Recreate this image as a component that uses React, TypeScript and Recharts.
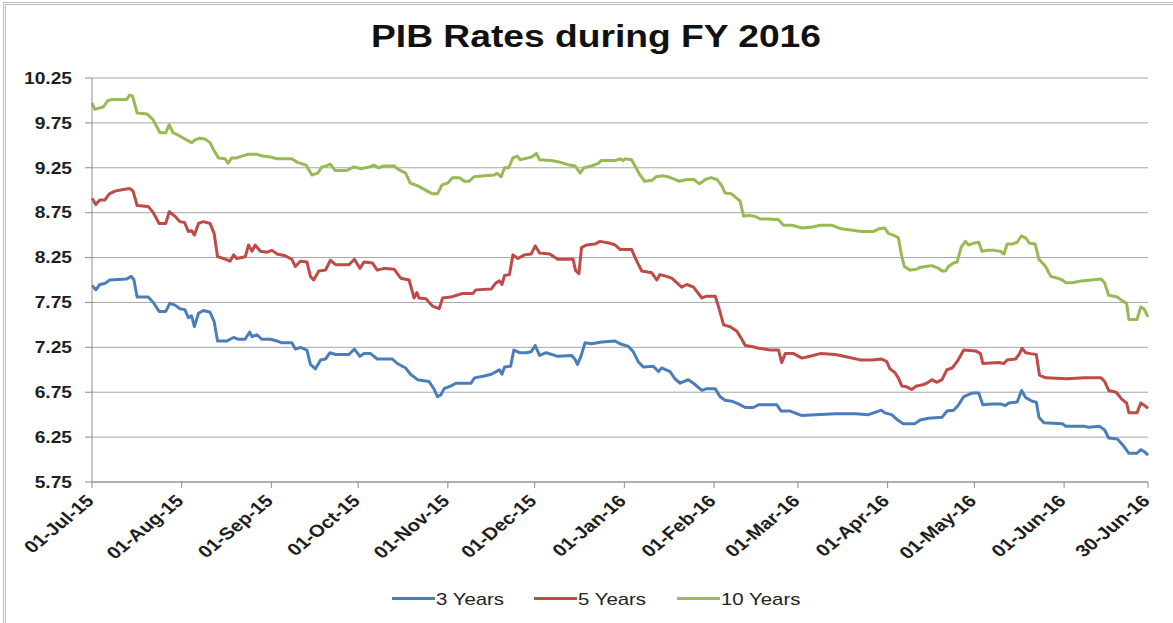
import React from "react";
import { LineChart, Line, XAxis, YAxis, CartesianGrid } from "recharts";

// PIB yields, FY 2016 (day 0 = 01-Jul-15)
const monthTicks = [0, 31, 62, 92, 123, 153, 184, 215, 244, 275, 305, 336, 365];
const monthLabels = [
  "01-Jul-15", "01-Aug-15", "01-Sep-15", "01-Oct-15", "01-Nov-15", "01-Dec-15",
  "01-Jan-16", "01-Feb-16", "01-Mar-16", "01-Apr-16", "01-May-16", "01-Jun-16", "30-Jun-16",
];
const rateTicks = [5.75, 6.25, 6.75, 7.25, 7.75, 8.25, 8.75, 9.25, 9.75, 10.25];
const seriesNames = ["3 Years", "5 Years", "10 Years"];
const seriesColors = ["#4a7ebb", "#be4b48", "#98b954"];

const days3 = [
  0, 1.3, 2.7, 4.4, 6.1, 11.9, 13.6, 14.5, 15.6, 19.4, 21.2, 23.2, 25.5, 26.9, 28.7, 30.4, 32.1, 33.3, 34.4, 35.4,
  36.8, 38.5, 40.8, 42.2, 43.4, 46.6, 48.9, 50.6, 52.9, 54.5, 55.3, 57, 58.7, 61.6, 64, 65.7, 69.1, 70.3, 72, 74.3,
  75.5, 77.2, 79, 80.7, 82.3, 84.2, 88.8, 90.7, 92.6, 94, 96.3, 98.6, 103.8, 105.5, 108.4, 110.1, 112.5, 116.5, 118.3, 119.4,
  120.6, 121.7, 124.1, 125.8, 131, 132.2, 135.6, 138, 139.7, 140.8, 141.7, 142.6, 144.7, 145.8, 147.8, 150.1, 151.8, 153.2, 154.7, 157,
  161, 165.7, 166.9, 167.8, 169, 170.4, 172.7, 176.2, 180.8, 182.5, 185.4, 187.1, 188.8, 190.6, 194, 195.8, 196.9, 199.8, 201.5, 203.3,
  206.1, 207.9, 210.8, 212.5, 215.4, 217.1, 218.8, 221.1, 223.4, 225.8, 228.6, 230.4, 236.7, 238.2, 241.3, 245.4, 250, 256.9, 263.8, 268.4,
  271.9, 272.8, 274, 276.4, 278.1, 280.4, 284.5, 286.2, 289.1, 293.8, 295.5, 297.8, 299.3, 301.3, 304.2, 306.5, 307.9, 311.1, 314, 315.7,
  316.9, 319.8, 321.3, 322.7, 325, 326.4, 327.3, 329, 335.4, 336.6, 343.2, 344.4, 348.3, 350, 351.4, 354.4, 356.6, 358.4, 361.2, 362.5,
  363.6, 365,
];
const rates3 = [
  7.94, 7.89, 7.95, 7.96, 8.0, 8.01, 8.04, 8.0, 7.81, 7.81, 7.75, 7.65, 7.65, 7.74, 7.72, 7.68, 7.67, 7.58, 7.6, 7.48,
  7.63, 7.66, 7.64, 7.54, 7.32, 7.32, 7.36, 7.34, 7.34, 7.42, 7.37, 7.39, 7.34, 7.34, 7.32, 7.3, 7.3, 7.23, 7.25, 7.22,
  7.06, 7.01, 7.11, 7.12, 7.19, 7.17, 7.17, 7.23, 7.15, 7.18, 7.18, 7.12, 7.12, 7.07, 7.02, 6.95, 6.89, 6.87, 6.78, 6.7,
  6.72, 6.79, 6.82, 6.85, 6.85, 6.91, 6.93, 6.95, 6.98, 7.0, 6.95, 7.03, 7.04, 7.22, 7.19, 7.19, 7.2, 7.27, 7.16, 7.19,
  7.15, 7.16, 7.12, 7.06, 7.15, 7.3, 7.29, 7.31, 7.32, 7.29, 7.26, 7.2, 7.09, 7.03, 7.04, 6.98, 7.02, 6.98, 6.9, 6.85,
  6.89, 6.85, 6.77, 6.79, 6.79, 6.7, 6.66, 6.65, 6.62, 6.58, 6.58, 6.61, 6.61, 6.54, 6.54, 6.49, 6.5, 6.51, 6.51, 6.5,
  6.54, 6.55, 6.52, 6.5, 6.45, 6.4, 6.4, 6.44, 6.46, 6.47, 6.54, 6.55, 6.6, 6.7, 6.74, 6.74, 6.61, 6.62, 6.62, 6.6,
  6.63, 6.64, 6.77, 6.69, 6.65, 6.64, 6.47, 6.41, 6.4, 6.37, 6.37, 6.36, 6.37, 6.33, 6.24, 6.23, 6.15, 6.07, 6.07, 6.11,
  6.09, 6.05,
];

const days5 = [
  0, 1.3, 2.7, 4.4, 6, 7.9, 11.3, 13, 14.2, 15.6, 19.4, 21.2, 23.2, 25.5, 26.7, 28.7, 30.4, 32, 33.3, 34.4,
  35.4, 36.8, 38.5, 40.8, 42.2, 43.4, 45.4, 47.7, 49, 50, 53, 54.1, 55.3, 56.4, 58.2, 60.5, 62.2, 64, 66.8, 69.1,
  70.3, 72, 74.3, 75.5, 76.6, 78.4, 80.7, 82.4, 84.2, 88.8, 90.7, 92.6, 94, 96.9, 98.6, 100.9, 104.4, 106.7, 109.6, 111.3,
  112.3, 113, 115.4, 117.7, 120, 121.2, 124, 128, 131.6, 132.7, 138, 139.7, 140.8, 141.7, 142.6, 144.3, 145.5, 147.2, 149.5, 151.8,
  153.2, 154.7, 158.2, 161, 166.3, 167.1, 168.3, 169.2, 170.9, 173.8, 175.6, 179, 180.8, 182.5, 186.5, 188.3, 190, 193.5, 195.2, 196.3,
  198.6, 200.4, 203.8, 205.6, 207.9, 210.8, 212.5, 215.4, 216.5, 218.3, 220.6, 222.9, 224.6, 225.8, 228, 230.4, 234.4, 237.3, 238.4, 239.6,
  242.5, 245.4, 248.2, 251.7, 256.9, 261.5, 265.5, 269.6, 272.9, 274.7, 275.8, 277.5, 278.7, 279.9, 281.6, 283.3, 285, 286.8, 288.5, 290.3,
  292, 293.8, 295.5, 297.3, 299, 301.3, 305.4, 307.1, 307.9, 313.4, 315.2, 316.3, 319.2, 320.4, 321.5, 322.7, 324.4, 326.4, 327.5, 329.6,
  337, 343, 348.8, 350, 351.4, 354, 356, 357.6, 358.4, 361.2, 362.5, 363.9, 365,
];
const rates5 = [
  8.91, 8.84, 8.89, 8.89, 8.96, 8.99, 9.01, 9.02, 8.99, 8.83, 8.82, 8.75, 8.63, 8.63, 8.76, 8.71, 8.65, 8.64, 8.54, 8.55,
  8.5, 8.63, 8.65, 8.63, 8.52, 8.26, 8.24, 8.21, 8.28, 8.24, 8.26, 8.39, 8.32, 8.39, 8.32, 8.31, 8.33, 8.29, 8.27, 8.23,
  8.15, 8.21, 8.2, 8.04, 8.0, 8.1, 8.11, 8.22, 8.17, 8.17, 8.23, 8.13, 8.2, 8.19, 8.11, 8.13, 8.12, 8.02, 8.0, 7.8,
  7.86, 7.8, 7.79, 7.71, 7.68, 7.8, 7.81, 7.85, 7.85, 7.89, 7.9, 7.97, 7.99, 7.95, 8.05, 8.06, 8.28, 8.24, 8.28, 8.29,
  8.38, 8.3, 8.29, 8.23, 8.23, 8.11, 8.07, 8.36, 8.39, 8.4, 8.43, 8.41, 8.39, 8.34, 8.34, 8.21, 8.1, 8.08, 8.0, 8.06,
  8.04, 8.02, 7.92, 7.95, 7.92, 7.8, 7.82, 7.82, 7.71, 7.5, 7.48, 7.43, 7.34, 7.27, 7.26, 7.24, 7.22, 7.22, 7.08, 7.18,
  7.18, 7.13, 7.15, 7.18, 7.17, 7.14, 7.11, 7.11, 7.12, 7.09, 7.01, 6.97, 6.91, 6.82, 6.81, 6.78, 6.82, 6.83, 6.85, 6.89,
  6.86, 6.89, 7.0, 7.02, 7.09, 7.22, 7.21, 7.18, 7.07, 7.08, 7.07, 7.11, 7.12, 7.17, 7.24, 7.19, 7.18, 7.17, 6.94, 6.91,
  6.9, 6.91, 6.91, 6.87, 6.77, 6.75, 6.67, 6.63, 6.52, 6.52, 6.63, 6.6, 6.57,
];

const days10 = [
  0, 1, 4, 5.5, 7, 12, 13, 14, 15.6, 19, 21, 23.5, 25.5, 26.7, 28, 30, 32.7, 34.5, 35.6, 37.3,
  39, 40.8, 42, 43.7, 46, 47, 48.3, 50, 51.8, 54, 57, 59, 61.6, 64, 69, 71, 74, 76, 78, 79.5,
  81, 82.4, 84, 88, 90.5, 93, 96, 97.4, 99, 101, 104.4, 106, 108.4, 110, 112.5, 114.8, 117.7, 119.4, 121, 123,
  124.6, 127, 128.7, 130.4, 132, 135.6, 139, 140, 141.4, 142.6, 144, 145.5, 147, 148, 150.7, 152, 153.6, 154.7, 158.8, 162,
  165, 167, 168.7, 170, 172.7, 175, 176, 180.8, 182.5, 183.5, 184.2, 186.5, 187.7, 189.4, 191, 193.5, 195, 197.5, 199, 201.5,
  203, 205.6, 208, 210, 212, 214, 216, 217.7, 218.8, 221, 222.9, 224, 225.2, 227, 229, 231, 233.8, 237.3, 239, 242,
  245.4, 249, 251.7, 255.7, 259, 261.5, 266, 270, 272, 274, 275.2, 277, 278.7, 279.9, 280.8, 282.8, 285, 286.2, 288, 290.3,
  292.6, 293.8, 295, 296, 297.8, 299, 300.5, 301.9, 303, 304.7, 306.5, 307.6, 309.4, 311.7, 314, 315.2, 316.3, 318, 319.8, 321.2,
  322.7, 324, 326, 327.3, 329.6, 331.4, 333.7, 335.4, 336.6, 338.8, 342, 345.5, 348.8, 350, 351.4, 354.4, 356, 357.6, 358.4, 361.2,
  362.5, 363.6, 365,
];
const rates10 = [
  9.97, 9.9, 9.93, 10.0, 10.01, 10.01, 10.06, 10.05, 9.86, 9.85, 9.79, 9.64, 9.64, 9.73, 9.64, 9.61, 9.56, 9.53, 9.56, 9.58,
  9.57, 9.53, 9.45, 9.36, 9.35, 9.3, 9.36, 9.36, 9.38, 9.4, 9.4, 9.38, 9.37, 9.35, 9.35, 9.31, 9.28, 9.17, 9.19, 9.26,
  9.27, 9.29, 9.22, 9.22, 9.26, 9.24, 9.26, 9.28, 9.25, 9.27, 9.27, 9.23, 9.19, 9.08, 9.05, 9.01, 8.96, 8.96, 9.06, 9.08,
  9.14, 9.14, 9.1, 9.1, 9.15, 9.16, 9.17, 9.19, 9.15, 9.25, 9.25, 9.36, 9.38, 9.34, 9.36, 9.37, 9.41, 9.34, 9.33, 9.31,
  9.28, 9.27, 9.19, 9.25, 9.27, 9.3, 9.33, 9.33, 9.35, 9.33, 9.35, 9.34, 9.27, 9.17, 9.1, 9.11, 9.15, 9.16, 9.15, 9.12,
  9.1, 9.12, 9.12, 9.07, 9.12, 9.14, 9.12, 9.05, 8.97, 8.96, 8.91, 8.88, 8.71, 8.72, 8.71, 8.68, 8.68, 8.67, 8.61, 8.61,
  8.58, 8.59, 8.61, 8.61, 8.57, 8.56, 8.54, 8.54, 8.57, 8.58, 8.52, 8.5, 8.47, 8.26, 8.15, 8.11, 8.12, 8.14, 8.15, 8.16,
  8.13, 8.1, 8.1, 8.15, 8.19, 8.2, 8.37, 8.43, 8.39, 8.41, 8.42, 8.32, 8.33, 8.33, 8.32, 8.29, 8.4, 8.4, 8.42, 8.49,
  8.47, 8.41, 8.4, 8.23, 8.15, 8.04, 8.02, 8.0, 7.97, 7.97, 7.99, 8.0, 8.01, 7.97, 7.83, 7.81, 7.77, 7.74, 7.56, 7.56,
  7.7, 7.68, 7.59,
];

const toSeries = (days: number[], rates: number[]) => days.map((d, i) => ({ day: d, rate: rates[i] }));
const series = [toSeries(days3, rates3), toSeries(days5, rates5), toSeries(days10, rates10)];

const FONT = "'Liberation Sans', Arial, sans-serif";
const STRETCH = 1.2;

const XTick = (props: any) => {
  const { x, y, payload } = props;
  const label = monthLabels[monthTicks.indexOf(payload.value)];
  return (
    <g transform={`translate(${x + 3},${y + 12}) scale(${STRETCH},1) rotate(-45)`}>
      <text x={0} y={0} textAnchor="end" fontFamily={FONT} fontSize={17} fontWeight="bold" fill="#1e1e1e">
        {label}
      </text>
    </g>
  );
};

const YTick = (props: any) => {
  const { x, y, payload } = props;
  return (
    <g transform={`translate(${x},${y}) scale(${STRETCH},1)`}>
      <text x={0} y={0} dy="0.36em" textAnchor="end" fontFamily={FONT} fontSize={16} fontWeight="bold" fill="#1e1e1e">
        {payload.value.toFixed(2)}
      </text>
    </g>
  );
};

const legendLeft = [392, 534, 677];

export default function App() {
  return (
    <div style={{ position: "absolute", left: 0, top: 0, width: 1173, height: 623, background: "#fff", overflow: "hidden" }}>
      <div style={{ position: "absolute", left: 3, top: 2, width: 1180, height: 640, borderLeft: "3px double #bdbdbd", borderTop: "3px double #bdbdbd" }} />
      <span
        style={{
          position: "absolute", left: 596, top: 21, fontFamily: FONT, fontSize: 31, lineHeight: "31px",
          fontWeight: "bold", color: "#111", whiteSpace: "nowrap", transform: `translateX(-50%) scaleX(${STRETCH})`,
        }}
      >
        PIB Rates during FY 2016
      </span>
      <LineChart width={1173} height={623} margin={{ top: 78, right: 25, bottom: 41, left: 0 }}>
        <CartesianGrid vertical={false} stroke="#a6a6a6" />
        <XAxis
          dataKey="day" type="number" domain={[0, 365]} ticks={monthTicks} interval={0} height={100}
          tick={<XTick />} tickSize={6} axisLine={{ stroke: "#8c8c8c" }} tickLine={{ stroke: "#8c8c8c" }}
        />
        <YAxis
          type="number" domain={[5.75, 10.25]} ticks={rateTicks} interval={0} width={92}
          tick={<YTick />} tickSize={7} tickMargin={13} axisLine={{ stroke: "#8c8c8c" }} tickLine={{ stroke: "#8c8c8c" }}
        />
        {series.map((s, i) => (
          <Line key={seriesNames[i]} data={s} dataKey="rate" name={seriesNames[i]} type="linear" stroke={seriesColors[i]}
            strokeWidth={3} dot={false} activeDot={false} isAnimationActive={false} strokeLinejoin="round" />
        ))}
      </LineChart>
      {seriesNames.map((n, i) => (
        <div key={n}>
          <div style={{ position: "absolute", left: legendLeft[i], top: 597, width: 43, height: 3, background: seriesColors[i] }} />
          <span
            style={{
              position: "absolute", left: legendLeft[i] + 44, top: 591, fontFamily: FONT, fontSize: 17, lineHeight: "17px",
              color: "#222", whiteSpace: "nowrap", transform: `scaleX(${STRETCH})`, transformOrigin: "left",
            }}
          >
            {n}
          </span>
        </div>
      ))}
    </div>
  );
}
